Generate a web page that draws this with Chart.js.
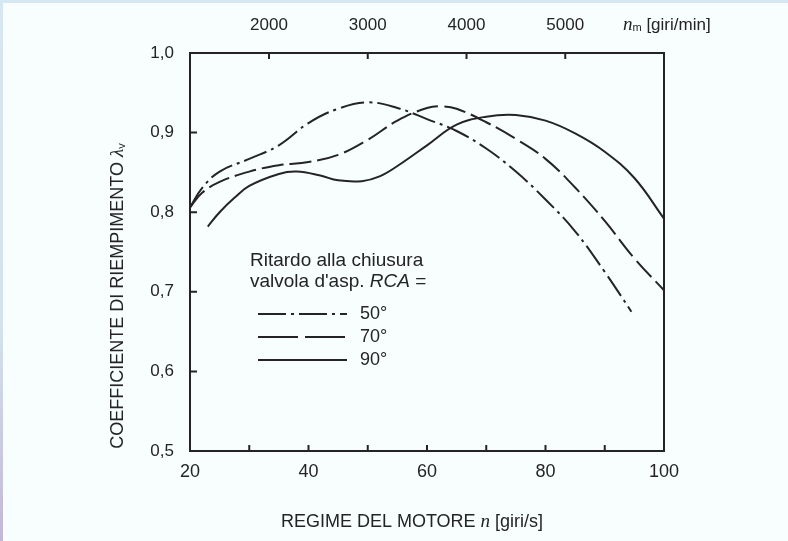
<!DOCTYPE html>
<html>
<head>
<meta charset="utf-8">
<script src="https://cdn.jsdelivr.net/npm/chart.js@4.4.1/dist/chart.umd.min.js"></script>
<style>
  html, body { margin: 0; padding: 0; }
  body {
    width: 788px; height: 541px; overflow: hidden; position: relative;
    background: linear-gradient(180deg, #d5e7f3 0%, #d3e2ee 60%, #c3b7d7 100%);
  }
  #paper { position: absolute; left: 3px; top: 3px; right: 0; bottom: 0; background: #f8fdfd; }
  #wrap { position: absolute; left: 0; top: 0; width: 788px; height: 541px; }
</style>
</head>
<body>
<div id="paper"></div>
<div id="wrap"><canvas id="chart" width="788" height="541"></canvas></div>
<script>
// engine speed n [giri/s] and filling coefficient λv
const rca50N = [20, 22, 25, 30, 35, 40, 45, 50, 55, 60, 65, 70, 75, 80, 85, 90, 94.5]
const rca50V = [0.806, 0.830, 0.851, 0.867, 0.884, 0.912, 0.930, 0.938, 0.931, 0.917, 0.902, 0.880, 0.851, 0.816, 0.776, 0.725, 0.675]

const rca70N = [20, 22, 25, 30, 35, 40, 45, 50, 55, 60, 62.5, 65, 70, 75, 80, 85, 90, 95, 100]
const rca70V = [0.806, 0.824, 0.838, 0.851, 0.859, 0.863, 0.872, 0.891, 0.915, 0.931, 0.933, 0.930, 0.913, 0.892, 0.867, 0.831, 0.789, 0.742, 0.702]

const rca90N = [23, 25, 27.5, 30, 35, 38, 42, 45, 49, 52, 55, 60, 65, 70, 75, 80, 85, 90, 95, 100]
const rca90V = [0.782, 0.800, 0.818, 0.833, 0.848, 0.851, 0.846, 0.840, 0.839, 0.845, 0.858, 0.884, 0.910, 0.920, 0.922, 0.915, 0.899, 0.876, 0.843, 0.792]

const seriesLabels = ["50°", "70°", "90°"]

// tick labels
const nLabels = [20, 40, 60, 80, 100]
const nInnerTicks = [30, 40, 50, 60, 70, 80, 90]
const rpmLabels = [2000, 3000, 4000, 5000]
const lambdaLabels = [0.5, 0.6, 0.7, 0.8, 0.9, 1.0]
const lambdaInnerTicks = [0.6, 0.7, 0.8, 0.9]

const ink = "#242424"
const sans = '"Liberation Sans", Arial, sans-serif'
const serif = '"Liberation Serif", "Times New Roman", serif'

const toPoints = (xs, ys) => xs.map((x, i) => ({ x: x, y: ys[i] }))

// draw a row of text runs with different fonts, centred or left aligned
function drawRuns(ctx, runs, x, y, align) {
  let total = 0
  runs.forEach((r) => {
    ctx.font = r.font
    r.w = ctx.measureText(r.text).width
    total += r.w
  })
  let cx = align === "center" ? x - total / 2 : x
  ctx.textAlign = "left"
  ctx.textBaseline = "middle"
  runs.forEach((r) => {
    ctx.font = r.font
    ctx.fillText(r.text, cx, y + (r.dy || 0))
    cx += r.w
  })
}

const framePlugin = {
  id: "frame",
  afterDraw(chart) {
    const { ctx, chartArea: a, scales } = chart
    ctx.save()
    ctx.strokeStyle = ink
    ctx.fillStyle = ink
    ctx.lineWidth = 2
    ctx.strokeRect(a.left, a.top, a.right - a.left, a.bottom - a.top)

    // short ticks pointing into the plot
    ctx.beginPath()
    nInnerTicks.forEach((v) => {
      const x = scales.x.getPixelForValue(v)
      ctx.moveTo(x, a.bottom)
      ctx.lineTo(x, a.bottom - 6)
    })
    rpmLabels.forEach((v) => {
      const x = scales.x2.getPixelForValue(v)
      ctx.moveTo(x, a.top)
      ctx.lineTo(x, a.top + 6)
    })
    lambdaInnerTicks.forEach((v) => {
      const y = scales.y.getPixelForValue(v)
      ctx.moveTo(a.left, y)
      ctx.lineTo(a.left + 7, y)
    })
    ctx.stroke()

    // axis titles
    drawRuns(ctx, [
      { text: "REGIME DEL MOTORE ", font: "18px " + sans },
      { text: "n", font: "italic 19px " + serif },
      { text: " [giri/s]", font: "18px " + sans }
    ], 412, 522, "center")

    drawRuns(ctx, [
      { text: "n", font: "italic 19px " + serif },
      { text: "m", font: "11px " + sans, dy: 3 },
      { text: " [giri/min]", font: "17px " + sans }
    ], 623, 25, "left")

    ctx.save()
    ctx.translate(118, 296)
    ctx.rotate(-Math.PI / 2)
    drawRuns(ctx, [
      { text: "COEFFICIENTE DI RIEMPIMENTO ", font: "18px " + sans },
      { text: "λ", font: "italic 19px " + serif },
      { text: "v", font: "11px " + sans, dy: 4 }
    ], 0, 0, "center")
    ctx.restore()

    // legend block inside the plot
    drawRuns(ctx, [{ text: "Ritardo alla chiusura", font: "19px " + sans }], 250, 261, "left")
    drawRuns(ctx, [
      { text: "valvola d'asp. ", font: "19px " + sans },
      { text: "RCA", font: "italic 19px " + sans },
      { text: " =", font: "19px " + sans }
    ], 250, 282, "left")

    chart.data.datasets.forEach((ds, i) => {
      const y = 314 + i * 23
      ctx.save()
      ctx.strokeStyle = ds.borderColor
      ctx.lineWidth = ds.borderWidth
      ctx.setLineDash(ds.legendDash || [])
      ctx.beginPath()
      ctx.moveTo(258, y)
      ctx.lineTo(347, y)
      ctx.stroke()
      ctx.restore()
      drawRuns(ctx, [{ text: ds.label, font: "18px " + sans }], 360, y, "left")
    })
    ctx.restore()
  }
}

const lineStyle = {
  borderColor: ink,
  borderWidth: 2,
  pointRadius: 0,
  fill: false,
  tension: 0.4
}

new Chart(document.getElementById("chart"), {
  type: "line",
  data: {
    datasets: [
      Object.assign({ label: seriesLabels[0], data: toPoints(rca50N, rca50V), borderDash: [24, 5, 3, 5], legendDash: [28, 5, 3, 5] }, lineStyle),
      Object.assign({ label: seriesLabels[1], data: toPoints(rca70N, rca70V), borderDash: [22, 6], legendDash: [40, 7] }, lineStyle),
      Object.assign({ label: seriesLabels[2], data: toPoints(rca90N, rca90V), borderDash: [], legendDash: [] }, lineStyle)
    ]
  },
  options: {
    responsive: false,
    animation: false,
    layout: { padding: { right: 124 } },
    plugins: { legend: { display: false }, tooltip: { enabled: false } },
    scales: {
      x: {
        type: "linear",
        position: "bottom",
        min: 20,
        max: 100,
        afterBuildTicks: (s) => { s.ticks = nLabels.map((v) => ({ value: v })) },
        afterFit: (s) => { s.height = 90 },
        grid: { display: false, drawTicks: false },
        border: { display: false },
        ticks: { padding: 10, color: ink, maxRotation: 0, font: { family: sans, size: 18 } }
      },
      x2: {
        type: "linear",
        position: "top",
        min: 20 * 60,
        max: 100 * 60,
        afterBuildTicks: (s) => { s.ticks = rpmLabels.map((v) => ({ value: v })) },
        afterFit: (s) => { s.height = 53 },
        grid: { display: false, drawTicks: false },
        border: { display: false },
        ticks: {
          padding: 17,
          color: ink,
          maxRotation: 0,
          font: { family: sans, size: 17 },
          callback: (v) => String(v)
        }
      },
      y: {
        type: "linear",
        min: 0.5,
        max: 1.0,
        afterBuildTicks: (s) => { s.ticks = lambdaLabels.map((v) => ({ value: v })) },
        afterFit: (s) => { s.width = 190 },
        grid: { display: false, drawTicks: false },
        border: { display: false },
        ticks: {
          padding: 16,
          color: ink,
          font: { family: sans, size: 17 },
          callback: (v) => v.toFixed(1).replace(".", ",")
        }
      }
    }
  },
  plugins: [framePlugin]
})
</script>
</body>
</html>
